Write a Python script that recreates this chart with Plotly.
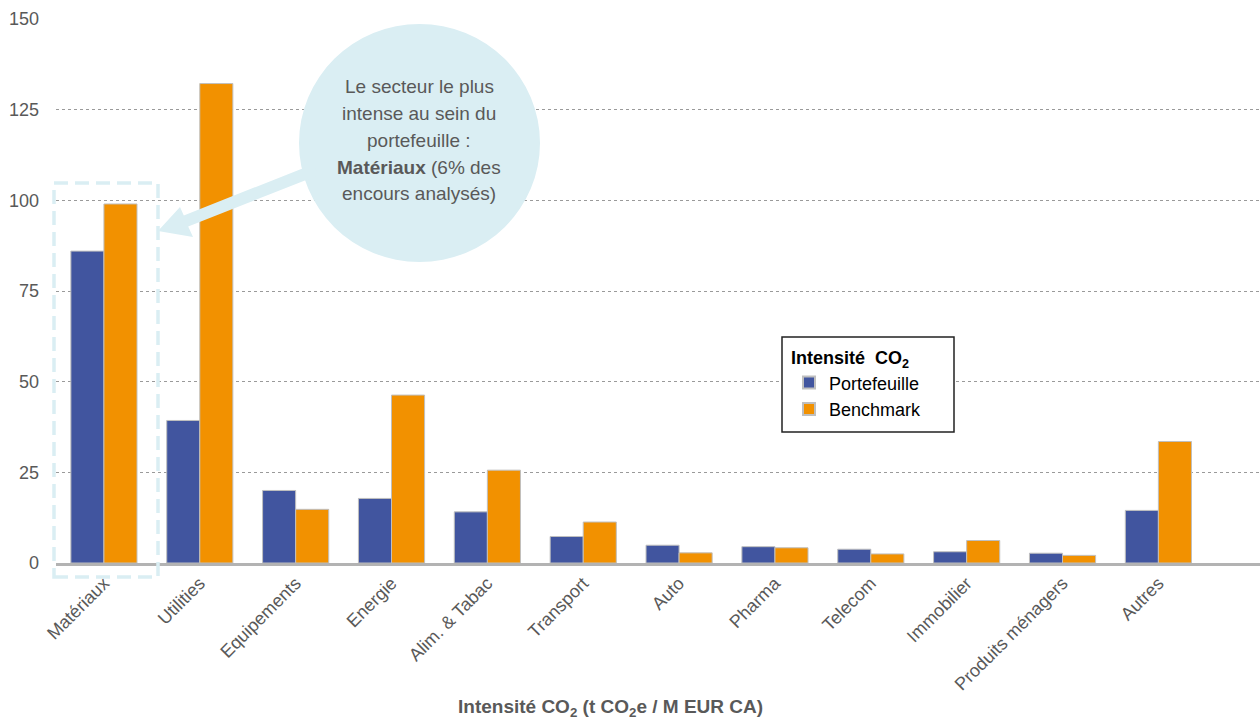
import plotly.graph_objects as go

categories = ["Matériaux", "Utilities", "Equipements", "Energie", "Alim. & Tabac", "Transport",
              "Auto", "Pharma", "Telecom", "Immobilier", "Produits ménagers", "Autres"]
portefeuille = [86, 39.3, 20, 17.8, 14.1, 7.3, 4.9, 4.5, 3.8, 3.1, 2.7, 14.5]
benchmark = [99, 132.2, 14.8, 46.3, 25.6, 11.3, 2.8, 4.2, 2.5, 6.2, 2.1, 33.5]
y_ticks = [0, 25, 50, 75, 100, 125, 150]

FONT = "Liberation Sans Narrow, Arial Narrow, Liberation Sans, Arial, sans-serif"
LFONT = "Liberation Sans, Arial, sans-serif"
GRAY = "#595959"
LIGHT = "#DAEEF3"

W, H = 1260, 722
L, T, R, B = 56, 19, 0, 159
PW, PH = W - L - R, H - T - B


def px(x):
    return (x - L) / PW


def py(y):
    return (H - B - y) / PH


fig = go.Figure()
fig.add_trace(go.Bar(x=categories, y=portefeuille, name="Portefeuille",
                     marker=dict(color="#41559F", line=dict(color="#BFBFBF", width=1))))
fig.add_trace(go.Bar(x=categories, y=benchmark, name="Benchmark",
                     marker=dict(color="#F29100", line=dict(color="#BFBFBF", width=1))))

shapes = []
# dashed highlight rectangle
shapes.append(dict(type="rect", xref="paper", yref="paper",
                   x0=px(54), x1=px(158), y0=py(577), y1=py(183),
                   line=dict(color=LIGHT, width=3.5, dash="14px,7px"), fillcolor="rgba(0,0,0,0)",
                   layer="above"))
# callout circle
shapes.append(dict(type="circle", xref="paper", yref="paper",
                   x0=px(299), x1=px(540), y0=py(262), y1=py(24),
                   line=dict(width=0), fillcolor=LIGHT, layer="above"))
# arrow
pts = [(158, 231), (180, 207), (183.8, 215.4), (313.8, 164), (318.2, 175.2),
       (188.2, 226.6), (193, 237)]
path = "M " + " L ".join(f"{px(a):.5f},{py(b):.5f}" for a, b in pts) + " Z"
shapes.append(dict(type="path", xref="paper", yref="paper", path=path,
                   line=dict(width=0), fillcolor=LIGHT, layer="above"))
# legend box
shapes.append(dict(type="rect", xref="paper", yref="paper",
                   x0=px(782), x1=px(954), y0=py(432), y1=py(337),
                   line=dict(color="#222222", width=1.5), fillcolor="white", layer="above"))

annotations = []
lines = ["Le secteur le plus", "intense au sein du", "portefeuille :",
         "<b>Matériaux</b> (6% des", "encours analysés)"]
for i, t in enumerate(lines):
    annotations.append(dict(text=t, xref="paper", yref="paper", x=px(419), y=py(86 + 27 * i),
                            xanchor="center", yanchor="middle", showarrow=False,
                            font=dict(family=FONT, size=19, color=GRAY)))
annotations.append(dict(text="<b>Intensité CO<sub>2</sub> (t CO<sub>2</sub>e / M EUR CA)</b>",
                        xref="paper", yref="paper", x=px(610), y=py(708),
                        xanchor="center", yanchor="middle", showarrow=False,
                        font=dict(family=FONT, size=19, color=GRAY)))

fig.update_layout(
    width=W, height=H,
    margin=dict(l=L, r=R, t=T, b=B),
    paper_bgcolor="white", plot_bgcolor="white",
    barmode="group", bargap=0.31, bargroupgap=0,
    font=dict(family=FONT, size=17, color=GRAY),
    shapes=shapes, annotations=annotations,
    legend=dict(x=px(789), y=py(341), xanchor="left", yanchor="top",
                title=dict(text="<b>Intensité  CO<sub>2</sub></b>",
                           font=dict(family=LFONT, size=18, color="black")),
                font=dict(family=LFONT, size=18, color="black"),
                borderwidth=0, bgcolor="rgba(0,0,0,0)",
                itemsizing="constant", tracegroupgap=0, itemwidth=30),
    xaxis=dict(type="category", range=[-0.5, 12.06], tickangle=-45,
               showgrid=False, showline=True, linecolor="#B3B3B3", linewidth=2.5,
               ticks="", tickfont=dict(family=FONT, size=18, color=GRAY)),
    yaxis=dict(range=[0, 150], tickvals=y_ticks, showgrid=True, gridcolor="#9A9A9A",
               griddash="dot", gridwidth=1, zeroline=False, ticks="",
               ticklabelstandoff=16, tickfont=dict(family=FONT, size=18, color=GRAY)),
)

fig.write_html("out.html")
